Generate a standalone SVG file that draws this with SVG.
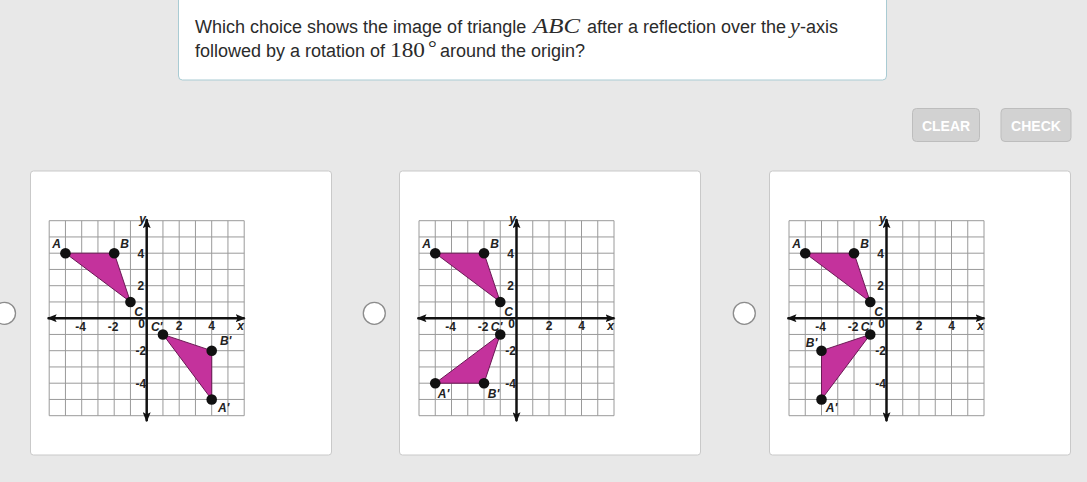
<svg xmlns="http://www.w3.org/2000/svg" xmlns:xlink="http://www.w3.org/1999/xlink" width="1087" height="482" viewBox="0 0 1087 482">
<style>
.q{font-family:"Liberation Sans",Arial,sans-serif;font-size:18px;fill:#2b2b2b}
.m{font-family:"Liberation Serif","Times New Roman",serif;font-size:22px;fill:#2b2b2b}
.mi{font-style:italic}
.card{fill:#fff;stroke:#c9c9c9;stroke-width:1}
.radio{fill:#fff;stroke:#8c8c8c;stroke-width:1.3}
.btn{fill:#d2d2d2;stroke:#bdbdbd;stroke-width:1}
.btnt{font-family:"Liberation Sans",Arial,sans-serif;font-size:14px;font-weight:bold;fill:#fff;text-anchor:middle}
.grid{fill:none;stroke:#9a9a9a;stroke-width:1}
.axis{fill:none;stroke:#111;stroke-width:2.5}
.tick{font-family:"Liberation Sans",Arial,sans-serif;font-size:12px;font-weight:bold;fill:#222}
.lbl{font-family:"Liberation Sans",Arial,sans-serif;font-size:12px;font-weight:bold;font-style:italic;fill:#222;text-anchor:middle}
.tri{fill:#c4329c;stroke:#6b1a55;stroke-width:1}
.pt{fill:#111}
</style>
<defs>
<marker id="arr" viewBox="0 0 10 8" refX="9" refY="4" markerWidth="10" markerHeight="8" markerUnits="userSpaceOnUse" orient="auto-start-reverse"><path d="M0,0 L10,4 L0,8 L2,4 Z" fill="#111"/></marker>
<g id="plot">
<path class="grid" d="M-97.5,-97.5V97.5M-81.25,-97.5V97.5M-65,-97.5V97.5M-48.75,-97.5V97.5M-32.5,-97.5V97.5M-16.25,-97.5V97.5M16.25,-97.5V97.5M32.5,-97.5V97.5M48.75,-97.5V97.5M65,-97.5V97.5M81.25,-97.5V97.5M97.5,-97.5V97.5M-97.5,-97.5H97.5M-97.5,-81.25H97.5M-97.5,-65H97.5M-97.5,-48.75H97.5M-97.5,-32.5H97.5M-97.5,-16.25H97.5M-97.5,16.25H97.5M-97.5,32.5H97.5M-97.5,48.75H97.5M-97.5,65H97.5M-97.5,81.25H97.5M-97.5,97.5H97.5"/>
<path class="axis" d="M-99,0H98" marker-start="url(#arr)" marker-end="url(#arr)"/>
<path class="axis" d="M0,-99V103" marker-start="url(#arr)" marker-end="url(#arr)"/>
<text class="tick" text-anchor="middle" x="-66" y="12.5">-4</text>
<text class="tick" text-anchor="middle" x="-33.5" y="12.5">-2</text>
<text class="tick" text-anchor="middle" x="-5" y="9.5">0</text>
<text class="tick" text-anchor="middle" x="32.5" y="12">2</text>
<text class="tick" text-anchor="middle" x="65" y="12">4</text>
<text class="tick" font-style="italic" text-anchor="middle" x="94" y="12">x</text>
<text class="tick" font-style="italic" text-anchor="middle" x="-4" y="-95.5">y</text>
<text class="tick" text-anchor="end" x="-2.5" y="-60.5">4</text>
<text class="tick" text-anchor="end" x="-2.5" y="-28">2</text>
<text class="tick" text-anchor="end" x="-0.5" y="37">-2</text>
<text class="tick" text-anchor="end" x="-0.5" y="69.5">-4</text>
<polygon class="tri" points="-81.25,-65 -32.5,-65 -16.25,-16.25"/>
<circle class="pt" cx="-81.25" cy="-65" r="5.3"/>
<circle class="pt" cx="-32.5" cy="-65" r="5.3"/>
<circle class="pt" cx="-16.25" cy="-16.25" r="5.3"/>
<text class="lbl" x="-90" y="-70">A</text>
<text class="lbl" x="-22" y="-70">B</text>
<text class="lbl" x="-8" y="-2">C</text>
</g>
</defs>
<rect width="1087" height="482" fill="#e8e8e8"/>
<g id="question">
<rect x="178.5" y="-4" width="708" height="84" rx="4" fill="#fff" stroke="#a9cbd3"/>
<text class="q" x="195" y="33">Which choice shows the image of triangle</text>
<text class="m mi" x="533" y="33" textLength="47" lengthAdjust="spacingAndGlyphs">ABC</text>
<text class="q" x="587" y="33">after a reflection over the</text>
<text class="m mi" x="790" y="33">y</text>
<text class="q" x="800" y="33">-axis</text>
<text class="q" x="195" y="57">followed by a rotation of</text>
<text class="m" font-size="20" x="390" y="57" textLength="35" lengthAdjust="spacingAndGlyphs">180</text>
<text class="m" font-size="12" x="428" y="55">°</text>
<text class="q" x="440" y="57">around the origin?</text>
</g>
<g id="btn-clear">
<rect class="btn" x="912.5" y="108.5" width="67" height="33" rx="4"/>
<text class="btnt" x="946" y="130.5">CLEAR</text>
</g>
<g id="btn-check">
<rect class="btn" x="1001" y="108.5" width="70" height="33" rx="4"/>
<text class="btnt" x="1036" y="130.5">CHECK</text>
</g>
<g id="choice-1">
<circle class="radio" cx="4.5" cy="313.3" r="11"/>
<rect class="card" x="30.5" y="171" width="301" height="284" rx="3"/>
<g transform="translate(146.7,318.2)">
<use xlink:href="#plot"/>
<polygon class="tri" points="16.25,16.25 65,32.5 65,81.25"/>
<circle class="pt" cx="16.25" cy="16.25" r="5.3"/>
<circle class="pt" cx="65" cy="32.5" r="5.3"/>
<circle class="pt" cx="65" cy="81.25" r="5.3"/>
<text class="lbl" x="10" y="12.5">C'</text>
<text class="lbl" x="79" y="27">B'</text>
<text class="lbl" x="77" y="93.5">A'</text>
</g>
</g>
<g id="choice-2">
<circle class="radio" cx="374.3" cy="313.3" r="11"/>
<rect class="card" x="399.5" y="171" width="301" height="284" rx="3"/>
<g transform="translate(516.5,318.2)">
<use xlink:href="#plot"/>
<polygon class="tri" points="-16.25,16.25 -32.5,65 -81.25,65"/>
<circle class="pt" cx="-16.25" cy="16.25" r="5.3"/>
<circle class="pt" cx="-32.5" cy="65" r="5.3"/>
<circle class="pt" cx="-81.25" cy="65" r="5.3"/>
<text class="lbl" x="-20" y="12.5">C'</text>
<text class="lbl" x="-23" y="80">B'</text>
<text class="lbl" x="-73" y="80">A'</text>
</g>
</g>
<g id="choice-3">
<circle class="radio" cx="744.3" cy="313.3" r="11"/>
<rect class="card" x="769.5" y="171" width="301" height="284" rx="3"/>
<g transform="translate(886.5,318.2)">
<use xlink:href="#plot"/>
<polygon class="tri" points="-16.25,16.25 -65,32.5 -65,81.25"/>
<circle class="pt" cx="-16.25" cy="16.25" r="5.3"/>
<circle class="pt" cx="-65" cy="32.5" r="5.3"/>
<circle class="pt" cx="-65" cy="81.25" r="5.3"/>
<text class="lbl" x="-20" y="12.5">C'</text>
<text class="lbl" x="-75" y="28.5">B'</text>
<text class="lbl" x="-55" y="93.5">A'</text>
</g>
</g>
</svg>
